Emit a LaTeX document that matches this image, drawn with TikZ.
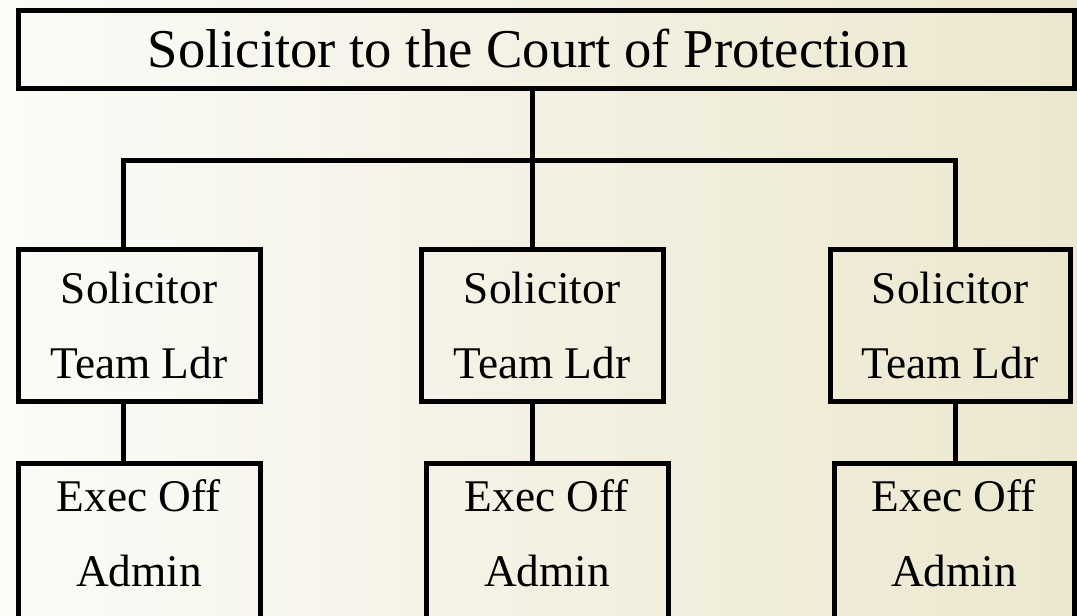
\documentclass[tikz,border=0pt]{standalone}
\usepackage{fontspec}
\setmainfont{Liberation Serif}
\usepackage{tikz}
\usetikzlibrary{positioning, calc}
\definecolor{PaperLeft}{RGB}{251,251,248}
\definecolor{PaperRight}{RGB}{236,231,206}
\tikzstyle{post} = [draw, line width=3.75pt, inner sep=0pt, outer sep=0pt, align=center, font=\fontsize{34}{56}\selectfont]
\tikzstyle{link} = [line width=3.75pt]

\begin{document}
\begin{tikzpicture}[x=0.75pt, y=-0.75pt]
    % Background
    \shade[left color=PaperLeft, right color=PaperRight] (0,0) rectangle (1077,615);
    \useasboundingbox (0,0) rectangle (1077,615);
    \clip (0,0) rectangle (1077,615);

    % Head of department
    \node[post, minimum width=792pt, minimum height=58.5pt, font=\fontsize{41}{56}\selectfont] (court) at (546,49) {Solicitor to the Court of Protection\hspace*{27pt}};

    % Team leaders
    \node[post, minimum width=181.5pt, minimum height=114pt] (solL) at (139,325.5) {Solicitor\\Team Ldr};
    \node[post, minimum width=181.5pt, minimum height=114pt] (solM) at (542,325.5) {Solicitor\\Team Ldr};
    \node[post, minimum width=180pt, minimum height=114pt] (solR) at (950,325.5) {Solicitor\\Team Ldr};

    % Admin staff, running off the page
    \node[post, anchor=north, minimum width=181.5pt, minimum height=127.5pt, text depth=22pt] (execL) at (139,463) {Exec Off\\Admin};
    \node[post, anchor=north, minimum width=181.5pt, minimum height=127.5pt, text depth=22pt] (execM) at (547,463) {Exec Off\\Admin};
    \node[post, anchor=north, minimum width=180pt, minimum height=127.5pt, text depth=22pt] (execR) at (954,463) {Exec Off\\Admin};

    % Junctions on the bar
    \coordinate (jL) at (123,160);
    \coordinate (jM) at (532,160);
    \coordinate (jR) at (955,160);

    % Connections
    \draw[link] (court.south -| jM) -- (jM);
    \draw[link] (solL.north -| jL) -- (jL) -- (jR) -- (solR.north -| jR);
    \draw[link] (jM) -- (solM.north -| jM);
    \draw[link] (solL.south -| jL) -- (execL.north -| jL);
    \draw[link] (solM.south -| jM) -- (execM.north -| jM);
    \draw[link] (solR.south -| jR) -- (execR.north -| jR);
\end{tikzpicture}
\end{document}
